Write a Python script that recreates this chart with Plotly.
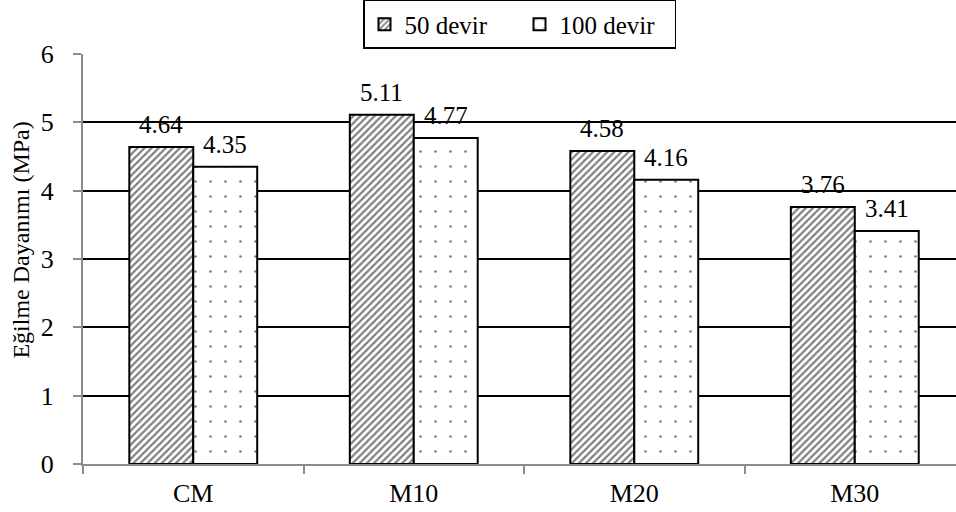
import plotly.graph_objects as go

# Flexural strength after abrasion cycles
categories = ["CM", "M10", "M20", "M30"]
series_names = ["50 devir", "100 devir"]
strength_50 = [4.64, 5.11, 4.58, 3.76]
strength_100 = [4.35, 4.77, 4.16, 3.41]
y_ticks = [0, 1, 2, 3, 4, 5, 6]
y_title = "Eğilme Dayanımı (MPa)"

FONT = "Times New Roman, Liberation Serif, Times, serif"
BAR_GAP = 0.42
half_w = (1 - BAR_GAP) / 4  # centre offset of each bar within its group

fig = go.Figure()
fig.add_trace(go.Bar(
    name=series_names[0], x=categories, y=strength_50,
    marker=dict(color="white", line=dict(color="black", width=2),
                pattern=dict(shape="/", size=5, solidity=0.45,
                             fgcolor="black", bgcolor="white")),
))
fig.add_trace(go.Bar(
    name=series_names[1], x=categories, y=strength_100,
    marker=dict(color="white", line=dict(color="black", width=2),
                pattern=dict(shape=".", size=15, solidity=0.025,
                             fgcolor="black", bgcolor="white")),
))

# value labels above each bar
annotations = []
for i, cat in enumerate(categories):
    for j, vals in enumerate([strength_50, strength_100]):
        annotations.append(dict(
            x=i + (-half_w if j == 0 else half_w), y=vals[i],
            xref="x", yref="y", text=f"{vals[i]:.2f}", showarrow=False,
            yanchor="bottom", xanchor="center", yshift=7,
            font=dict(family=FONT, size=25, color="black"),
        ))

# vertical axis title
annotations.append(dict(
    text=y_title, textangle=-90, showarrow=False,
    xref="paper", yref="paper", x=-0.071, y=0.545,
    xanchor="center", yanchor="middle",
    font=dict(family=FONT, size=24, color="black"),
))

fig.update_layout(
    width=956, height=512,
    margin=dict(l=83, r=0, t=54, b=48, autoexpand=False),
    paper_bgcolor="white", plot_bgcolor="white",
    barmode="group", bargap=BAR_GAP, bargroupgap=0,
    font=dict(family=FONT, size=26, color="black"),
    annotations=annotations,
    legend=dict(orientation="h", x=0.5, xanchor="center", y=1.072, yanchor="middle",
                bordercolor="black", borderwidth=1.5, bgcolor="white",
                font=dict(family=FONT, size=25, color="black"),
                itemwidth=30, entrywidth=110, tracegroupgap=0),
    xaxis=dict(range=[-0.5, 3.459], showgrid=False, showline=True,
               linecolor="#8c8c8c", linewidth=2, ticks="outside",
               tickson="boundaries", ticklen=8, tickwidth=2, tickcolor="#8c8c8c",
               ticklabelstandoff=5, tickfont=dict(family=FONT, size=26)),
    yaxis=dict(range=[0, 6], tickvals=y_ticks, showgrid=True, gridcolor="black",
               gridwidth=2, zeroline=False, showline=True, linecolor="#8c8c8c",
               linewidth=2, ticks="outside", ticklen=8, tickwidth=2,
               tickcolor="#8c8c8c", ticklabelstandoff=14,
               tickfont=dict(family=FONT, size=26)),
)

fig.write_html("out.html")
